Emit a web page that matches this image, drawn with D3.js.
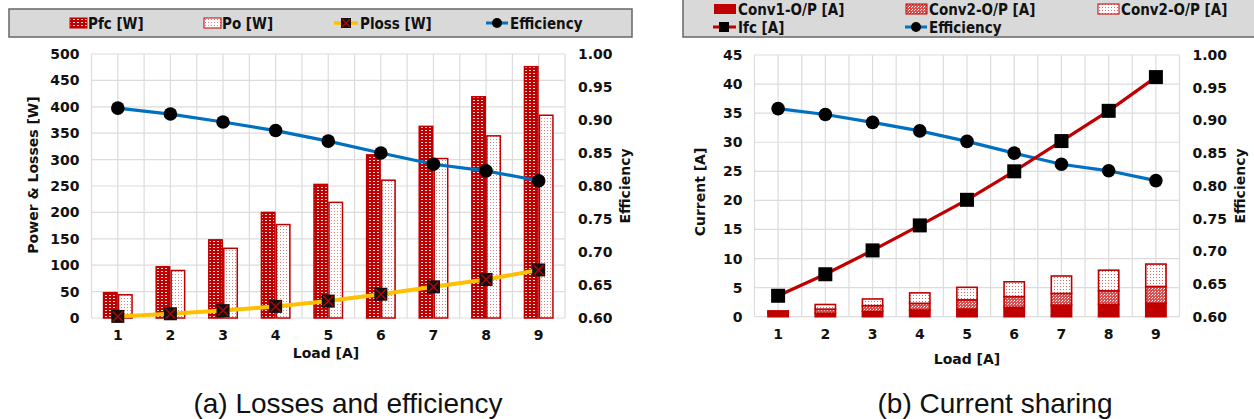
<!DOCTYPE html>
<html>
<head>
<meta charset="utf-8">
<script src="https://cdn.jsdelivr.net/npm/d3@7"></script>
<style>
  html, body { margin: 0; padding: 0; background: #fff; }
  svg { display: block; }
  .tick text { font-family: 'DejaVu Sans', sans-serif; font-weight: bold; font-size: 14px; fill: #111; }
  .ttl { font-family: 'DejaVu Sans', sans-serif; font-weight: bold; font-size: 14px; fill: #111; }
  .leg { font-family: 'DejaVu Sans Condensed', 'DejaVu Sans', sans-serif; font-stretch: condensed; font-weight: bold; font-size: 15px; fill: #111; }
  .cap { font-family: 'Liberation Sans Narrow', 'Liberation Sans', sans-serif; font-stretch: condensed; font-size: 28px; fill: #111; }
</style>
</head>
<body>
<svg id="fig" width="1254" height="419"></svg>
<script>
// ---- data ----
const loads = [1, 2, 3, 4, 5, 6, 7, 8, 9];
const pfc = [48, 97, 148, 200, 253, 309, 363, 419, 476];
const po = [44, 90, 132, 177, 219, 261, 302, 345, 384];
const ploss = [3, 8, 14, 22, 32, 45, 59, 73, 91];
const efficiency = [0.918, 0.909, 0.897, 0.884, 0.868, 0.850, 0.833, 0.823, 0.808];
const ifc = [3.6, 7.3, 11.4, 15.7, 20.1, 25.0, 30.2, 35.4, 41.2];
const conv1 = [0.6, 0.6, 0.9, 1.15, 1.3, 1.6, 2.0, 2.1, 2.3];
const conv2 = [0.2, 0.7, 1.0, 1.15, 1.6, 1.85, 2.0, 2.35, 2.9];
const conv3 = [0.2, 0.8, 1.15, 1.8, 2.15, 2.55, 3.0, 3.55, 3.85];
const powerTicks = [0, 50, 100, 150, 200, 250, 300, 350, 400, 450, 500];
const currentTicks = [0, 5, 10, 15, 20, 25, 30, 35, 40, 45];
const effTicks = [0.60, 0.65, 0.70, 0.75, 0.80, 0.85, 0.90, 0.95, 1.00];

const RED = '#c00000', BLUE = '#0070c0', GOLD = '#ffc000', GRID = '#dcdcdc';
const svg = d3.select('#fig');

// ---- fill patterns ----
const defs = svg.append('defs');
function pattern(id, w, h, bg, cells) {
  const p = defs.append('pattern').attr('id', id).attr('patternUnits', 'userSpaceOnUse')
    .attr('width', w).attr('height', h);
  p.append('rect').attr('width', w).attr('height', h).attr('fill', bg);
  cells.forEach(c => p.append('rect').attr('x', c[0]).attr('y', c[1]).attr('width', c[2]).attr('height', c[3]).attr('fill', c[4]));
}
pattern('pPfc', 4, 3, RED, [[1, 1, 2, 1, '#f8dede']]);
pattern('pPo', 3, 3, '#fff', [[1, 1, 1, 1, '#e08080']]);
pattern('pC2', 3, 3, '#d85050', [[0, 0, 1, 1, '#fff'], [2, 1, 1, 1, '#f6caca']]);
pattern('pC3', 3, 3, '#fff', [[1, 1, 1, 1, '#d66']]);

// ---- shared helpers ----
function grid(g, x, y, ticks) {
  const [x0, x1] = x.range();
  g.selectAll('.hg').data(ticks).join('line')
    .attr('x1', x0).attr('x2', x1).attr('y1', d => y(d)).attr('y2', d => y(d))
    .attr('stroke', GRID).attr('stroke-width', 1.2);
  const vx = [];
  loads.forEach(l => { vx.push(x(l)); vx.push(x(l) + x.bandwidth() / 2); });
  vx.push(x1);
  g.selectAll('.vg').data(vx).join('line')
    .attr('x1', d => d).attr('x2', d => d).attr('y1', y.range()[0]).attr('y2', y.range()[1])
    .attr('stroke', GRID).attr('stroke-width', 1.2);
}
function axes(x, yL, yR, ticksL, fmtL) {
  const [x0, x1] = x.range();
  const bottom = yL.range()[0];
  svg.append('g').attr('transform', `translate(0,${bottom})`)
    .call(d3.axisBottom(x).tickSize(0).tickPadding(12))
    .call(g => g.select('.domain').remove());
  svg.append('g').attr('transform', `translate(${x0},0)`)
    .call(d3.axisLeft(yL).tickValues(ticksL).tickFormat(fmtL).tickSize(0).tickPadding(12))
    .call(g => g.select('.domain').remove());
  svg.append('g').attr('transform', `translate(${x1},0)`)
    .call(d3.axisRight(yR).tickValues(effTicks).tickFormat(d3.format('.2f')).tickSize(0).tickPadding(13))
    .call(g => g.select('.domain').remove());
}
function effLine(x, yR) {
  const cx = d => x(d) + x.bandwidth() / 2;
  svg.append('path').datum(loads)
    .attr('d', d3.line().x(cx).y((d, i) => yR(efficiency[i])))
    .attr('fill', 'none').attr('stroke', BLUE).attr('stroke-width', 3.2);
  svg.append('g').selectAll('circle').data(loads).join('circle')
    .attr('cx', cx).attr('cy', (d, i) => yR(efficiency[i])).attr('r', 6.8).attr('fill', '#000');
}
function rotTitle(text, xPos, yPos, ang) {
  svg.append('text').attr('class', 'ttl').attr('text-anchor', 'middle')
    .attr('transform', `translate(${xPos},${yPos}) rotate(${ang})`).text(text);
}

// ================= (a) Losses and efficiency =================
{
  const x = d3.scaleBand().domain(loads).range([91.5, 565]);
  const y = d3.scaleLinear().domain([0, 500]).range([318, 54]);
  const yE = d3.scaleLinear().domain([0.6, 1.0]).range([318, 54]);
  const inner = d3.scaleBand().domain(['pfc', 'po']).range([0, x.bandwidth() * 0.57]);
  const off = x.bandwidth() * 0.215;

  grid(svg.append('g'), x, y, powerTicks);

  const bars = svg.append('g');
  [['pfc', pfc, 'url(#pPfc)'], ['po', po, 'url(#pPo)']].forEach(([k, vals, fill]) => {
    bars.selectAll('.b' + k).data(loads).join('rect')
      .attr('x', d => x(d) + off + inner(k) + 0.75)
      .attr('width', inner.bandwidth() - 1.5)
      .attr('y', (d, i) => y(vals[i]))
      .attr('height', (d, i) => y(0) - y(vals[i]))
      .attr('fill', fill).attr('stroke', RED).attr('stroke-width', 1.5);
  });

  const cx = d => x(d) + x.bandwidth() / 2;
  svg.append('path').datum(loads)
    .attr('d', d3.line().x(cx).y((d, i) => y(ploss[i])))
    .attr('fill', 'none').attr('stroke', GOLD).attr('stroke-width', 4);
  const mk = svg.append('g').selectAll('g').data(loads).join('g')
    .attr('transform', (d, i) => `translate(${cx(d)},${y(ploss[i])})`);
  mk.append('rect').attr('x', -6.5).attr('y', -6.5).attr('width', 13).attr('height', 13).attr('fill', '#111');
  mk.append('path').attr('d', 'M-5,-5L5,5M5,-5L-5,5').attr('stroke', RED).attr('stroke-width', 1.4);

  effLine(x, yE);
  axes(x, y, yE, powerTicks, d3.format('d'));

  rotTitle('Power & Losses [W]', 38, 175, -90);
  rotTitle('Efficiency', 630, 186, -90);
  svg.append('text').attr('class', 'ttl').attr('text-anchor', 'middle').attr('x', 326).attr('y', 358).text('Load [A]');

  // legend
  const lg = svg.append('g');
  lg.append('rect').attr('x', 9).attr('y', 9).attr('width', 623).attr('height', 28)
    .attr('fill', '#d9d9d9').attr('stroke', '#666').attr('stroke-width', 1.5);
  const ly = 23;
  lg.append('rect').attr('x', 70).attr('y', ly - 5).attr('width', 17).attr('height', 10).attr('fill', 'url(#pPfc)').attr('stroke', RED);
  lg.append('text').attr('class', 'leg').attr('x', 88).attr('y', ly + 5.5).text('Pfc [W]');
  lg.append('rect').attr('x', 204).attr('y', ly - 5).attr('width', 17).attr('height', 10).attr('fill', 'url(#pPo)').attr('stroke', RED);
  lg.append('text').attr('class', 'leg').attr('x', 222).attr('y', ly + 5.5).text('Po [W]');
  lg.append('line').attr('x1', 334).attr('x2', 358).attr('y1', ly).attr('y2', ly).attr('stroke', GOLD).attr('stroke-width', 3.5);
  lg.append('rect').attr('x', 341).attr('y', ly - 5).attr('width', 10).attr('height', 10).attr('fill', '#111');
  lg.append('path').attr('d', `M342,${ly - 4}L350,${ly + 4}M350,${ly - 4}L342,${ly + 4}`).attr('stroke', RED).attr('stroke-width', 1.2);
  lg.append('text').attr('class', 'leg').attr('x', 360).attr('y', ly + 5.5).text('Ploss [W]');
  lg.append('line').attr('x1', 486).attr('x2', 508).attr('y1', ly).attr('y2', ly).attr('stroke', BLUE).attr('stroke-width', 3);
  lg.append('circle').attr('cx', 497).attr('cy', ly).attr('r', 5).attr('fill', '#000');
  lg.append('text').attr('class', 'leg').attr('x', 510).attr('y', ly + 5.5).text('Efficiency');

  svg.append('text').attr('class', 'cap').attr('text-anchor', 'middle').attr('x', 348).attr('y', 413).text('(a)  Losses and efficiency');
}

// ================= (b) Current sharing =================
{
  const x = d3.scaleBand().domain(loads).range([754.5, 1179.5]);
  const y = d3.scaleLinear().domain([0, 45]).range([316.7, 55]);
  const yE = d3.scaleLinear().domain([0.6, 1.0]).range([316.7, 55]);
  const bw = x.bandwidth() * 0.43;

  grid(svg.append('g'), x, y, currentTicks);

  // stacked converter currents
  const rows = loads.map((l, i) => ({ load: l, c1: conv1[i], c2: conv2[i], c3: conv3[i] }));
  const stack = d3.stack().keys(['c1', 'c2', 'c3'])(rows);
  const fills = { c1: RED, c2: 'url(#pC2)', c3: 'url(#pC3)' };
  stack.forEach(layer => {
    svg.append('g').selectAll('rect').data(layer).join('rect')
      .attr('x', d => x(d.data.load) + (x.bandwidth() - bw) / 2)
      .attr('width', bw)
      .attr('y', d => y(d[1]))
      .attr('height', d => y(d[0]) - y(d[1]))
      .attr('fill', fills[layer.key]).attr('stroke', RED).attr('stroke-width', 1.6);
  });

  const cx = d => x(d) + x.bandwidth() / 2;
  effLine(x, yE);
  svg.append('path').datum(loads)
    .attr('d', d3.line().x(cx).y((d, i) => y(ifc[i])))
    .attr('fill', 'none').attr('stroke', RED).attr('stroke-width', 3.2);
  svg.append('g').selectAll('rect').data(loads).join('rect')
    .attr('x', d => cx(d) - 7).attr('y', (d, i) => y(ifc[i]) - 7)
    .attr('width', 14).attr('height', 14).attr('fill', '#000');

  axes(x, y, yE, currentTicks, d3.format('d'));

  rotTitle('Current [A]', 705, 192, -90);
  rotTitle('Efficiency', 1245, 186, -90);
  svg.append('text').attr('class', 'ttl').attr('text-anchor', 'middle').attr('x', 967).attr('y', 364).text('Load [A]');

  // legend
  const lg = svg.append('g');
  lg.append('rect').attr('x', 683).attr('y', -2).attr('width', 580).attr('height', 39)
    .attr('fill', '#d9d9d9').attr('stroke', '#666').attr('stroke-width', 1.5);
  const r1 = 9, r2 = 27;
  lg.append('rect').attr('x', 714).attr('y', r1 - 5).attr('width', 22).attr('height', 10).attr('fill', RED);
  lg.append('text').attr('class', 'leg').attr('x', 738).attr('y', r1 + 5.5).text('Conv1-O/P [A]');
  lg.append('rect').attr('x', 906).attr('y', r1 - 5).attr('width', 21).attr('height', 10).attr('fill', 'url(#pC2)').attr('stroke', RED);
  lg.append('text').attr('class', 'leg').attr('x', 929).attr('y', r1 + 5.5).text('Conv2-O/P [A]');
  lg.append('rect').attr('x', 1098).attr('y', r1 - 5).attr('width', 21).attr('height', 10).attr('fill', 'url(#pC3)').attr('stroke', RED);
  lg.append('text').attr('class', 'leg').attr('x', 1121).attr('y', r1 + 5.5).text('Conv2-O/P [A]');
  lg.append('line').attr('x1', 713).attr('x2', 736).attr('y1', r2).attr('y2', r2).attr('stroke', RED).attr('stroke-width', 3);
  lg.append('rect').attr('x', 719).attr('y', r2 - 5).attr('width', 10).attr('height', 10).attr('fill', '#000');
  lg.append('text').attr('class', 'leg').attr('x', 738).attr('y', r2 + 5.5).text('Ifc [A]');
  lg.append('line').attr('x1', 905).attr('x2', 927).attr('y1', r2).attr('y2', r2).attr('stroke', BLUE).attr('stroke-width', 3);
  lg.append('circle').attr('cx', 916).attr('cy', r2).attr('r', 5).attr('fill', '#000');
  lg.append('text').attr('class', 'leg').attr('x', 929).attr('y', r2 + 5.5).text('Efficiency');

  svg.append('text').attr('class', 'cap').attr('text-anchor', 'middle').attr('x', 995).attr('y', 413).text('(b)  Current sharing');
}
</script>
</body>
</html>
